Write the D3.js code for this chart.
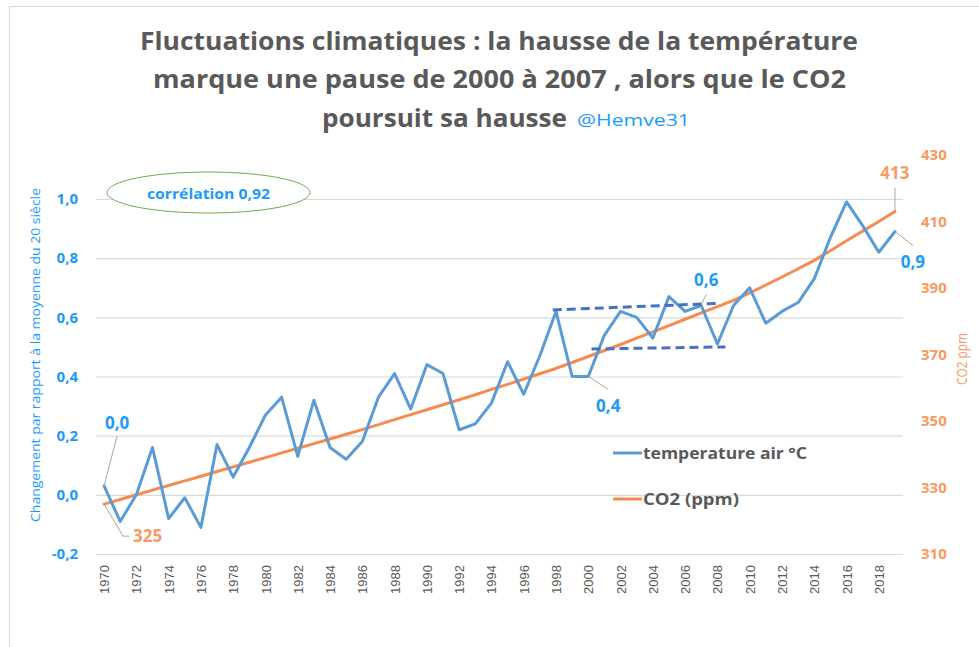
<!DOCTYPE html>
<html>
<head>
<meta charset="utf-8">
<script src="https://cdn.jsdelivr.net/npm/d3@7"></script>
<style>
  html, body { margin: 0; padding: 0; background: #fff; }
  svg { display: block; }
</style>
</head>
<body>
<svg id="chart" width="979" height="647"></svg>
<script>
// ---------- DATA ----------
const years = d3.range(1970, 2020);
const temperature = [
  0.03, -0.09, 0.00, 0.16, -0.08, -0.01, -0.11, 0.17, 0.06, 0.16,
  0.27, 0.33, 0.13, 0.32, 0.16, 0.12, 0.18, 0.33, 0.41, 0.29,
  0.44, 0.41, 0.22, 0.24, 0.31, 0.45, 0.34, 0.47, 0.62, 0.40,
  0.40, 0.54, 0.62, 0.60, 0.53, 0.67, 0.62, 0.64, 0.51, 0.64,
  0.70, 0.58, 0.62, 0.65, 0.73, 0.87, 0.99, 0.91, 0.82, 0.89
];
const co2 = [
  325.0, 326.4, 327.8, 329.2, 330.6, 332.0, 333.4, 334.8, 336.2, 337.6,
  339.0, 340.4, 341.8, 343.2, 344.6, 346.0, 347.4, 348.9, 350.4, 351.9,
  353.4, 354.9, 356.4, 357.9, 359.5, 361.0, 362.6, 364.2, 365.8, 367.6,
  369.4, 371.2, 373.0, 374.9, 376.8, 378.7, 380.6, 382.5, 384.4, 386.3,
  388.5, 390.9, 393.3, 395.8, 398.3, 401.2, 404.2, 407.1, 410.0, 413.0
];
const leftTicks = [-0.2, 0.0, 0.2, 0.4, 0.6, 0.8, 1.0];
const rightTicks = [310, 330, 350, 370, 390, 410, 430];
const xTicks = d3.range(1970, 2019, 2);
const pauseUpper = [[1997.8, 0.625], [2008.0, 0.647]];
const pauseLower = [[2000.2, 0.493], [2008.5, 0.500]];
const titleLines = [
  "Fluctuations climatiques : la hausse de la température",
  "marque une pause de 2000 à 2007 , alors que le CO2",
  "poursuit sa hausse"
];
const handle = "@Hemve31";
const seriesNames = ["temperature air °C", "CO2 (ppm)"];
const correlationText = "corrélation 0,92";
const leftTitle = "Changement par rapport à la moyenne du 20 siècle";
const rightTitle = "CO2 ppm";

// ---------- STYLE ----------
const BLUE_LINE = "#5B9BD5";
const ORANGE_LINE = "#F68A4F";
const BLUE_TEXT = "#1A9BFC";
const ORANGE_TEXT = "#F89A62";
const GREY_TEXT = "#595959";
const GRID = "#D9D9D9";
const DASH = "#4472C4";

const svg = d3.select("#chart");

// frame
svg.append("rect").attr("x", 9.5).attr("y", 6.5).attr("width", 1000).attr("height", 700)
  .attr("fill", "none").attr("stroke", "#D9D9D9").attr("stroke-width", 1);

// ---------- SCALES ----------
const plotL = 96, plotR = 903;
const x = d3.scalePoint().domain(years).range([plotL, plotR]).padding(0.5);
const xLin = d3.scaleLinear().domain([1970, 2019]).range([x(1970), x(2019)]);
const yL = d3.scaleLinear().domain([-0.2, 1.0]).range([554, 199]);
const yR = d3.scaleLinear().domain([310, 430]).range([554, 155]);
const fmtComma = v => d3.format(".1f")(v).replace(".", ",").replace("\u2212", "-");

// ---------- TITLE ----------
const titleFont = "'Open Sans', 'Liberation Sans', sans-serif";
const tl = [
  { t: titleLines[0], x: 140, y: 50, w: 718 },
  { t: titleLines[1], x: 153, y: 88, w: 693 },
  { t: titleLines[2], x: 322, y: 127, w: 245 }
];
tl.forEach(d => {
  svg.append("text").attr("x", d.x).attr("y", d.y)
    .attr("font-family", titleFont).attr("font-weight", 700).attr("font-size", 25)
    .attr("fill", GREY_TEXT).attr("textLength", d.w).attr("lengthAdjust", "spacingAndGlyphs")
    .text(d.t);
});
svg.append("text").attr("x", 577).attr("y", 126)
  .attr("font-family", titleFont).attr("font-size", 16).attr("fill", BLUE_TEXT)
  .attr("textLength", 113).attr("lengthAdjust", "spacingAndGlyphs")
  .text(handle);

// ---------- GRID ----------
const gGrid = svg.append("g")
  .attr("transform", `translate(${plotL},0)`)
  .call(d3.axisLeft(yL).tickValues(leftTicks).tickSize(-(plotR - plotL)).tickFormat(""));
gGrid.select(".domain").remove();
gGrid.selectAll("line").attr("stroke", GRID).attr("stroke-width", 1.2);

// ---------- LEFT AXIS LABELS ----------
const gL = svg.append("g").attr("transform", "translate(78,0)")
  .call(d3.axisLeft(yL).tickValues(leftTicks).tickSize(0).tickPadding(0).tickFormat(fmtComma));
gL.select(".domain").remove();
gL.selectAll("text").attr("font-family", "'Open Sans', sans-serif").attr("font-weight", 700)
  .attr("font-size", 15).attr("fill", BLUE_TEXT);

// ---------- RIGHT AXIS LABELS ----------
const gR = svg.append("g").attr("transform", "translate(921,0)")
  .call(d3.axisRight(yR).tickValues(rightTicks).tickSize(0).tickPadding(0));
gR.select(".domain").remove();
gR.selectAll("text").attr("font-family", "'Open Sans', sans-serif").attr("font-weight", 700)
  .attr("font-size", 15).attr("fill", ORANGE_TEXT);

// ---------- X AXIS ----------
const gX = svg.append("g").attr("transform", "translate(0,554)")
  .call(d3.axisBottom(x).tickValues(xTicks).tickSize(0).tickPadding(0));
gX.select(".domain").remove();
gX.selectAll("text")
  .attr("font-family", "'Liberation Sans', Arial, sans-serif").attr("font-size", 13)
  .attr("fill", GREY_TEXT)
  .attr("text-anchor", "end").attr("dy", "0.35em")
  .attr("transform", "translate(0,11) rotate(-90)")
  .attr("x", 0).attr("y", 0);

// ---------- AXIS TITLES ----------
svg.append("text").attr("transform", "translate(40,355) rotate(-90)")
  .attr("text-anchor", "middle").attr("font-family", "'Open Sans', sans-serif")
  .attr("font-size", 12.5).attr("fill", BLUE_TEXT)
  .attr("textLength", 334).attr("lengthAdjust", "spacingAndGlyphs")
  .text(leftTitle);
svg.append("text").attr("transform", "translate(967,359) rotate(-90)")
  .attr("text-anchor", "middle").attr("font-family", "'Open Sans', sans-serif")
  .attr("font-size", 14).attr("fill", ORANGE_TEXT)
  .attr("textLength", 52).attr("lengthAdjust", "spacingAndGlyphs")
  .text(rightTitle);

// ---------- LINES ----------
const lineT = d3.line().x((d, i) => x(years[i])).y(d => yL(d));
const lineC = d3.line().x((d, i) => x(years[i])).y(d => yR(d));
svg.append("path").datum(co2).attr("d", lineC)
  .attr("fill", "none").attr("stroke", ORANGE_LINE).attr("stroke-width", 3)
  .attr("stroke-linejoin", "round").attr("stroke-linecap", "round");
svg.append("path").datum(temperature).attr("d", lineT)
  .attr("fill", "none").attr("stroke", BLUE_LINE).attr("stroke-width", 3)
  .attr("stroke-linejoin", "round").attr("stroke-linecap", "round");

// ---------- PAUSE DASHED LINES ----------
const dashLine = d3.line().x(d => xLin(d[0])).y(d => yL(d[1]));
[pauseUpper, pauseLower].forEach(p => {
  svg.append("path").datum(p).attr("d", dashLine)
    .attr("fill", "none").attr("stroke", DASH).attr("stroke-width", 3)
    .attr("stroke-dasharray", "9,5");
});

// ---------- DATA LABELS ----------
const idx = y => years.indexOf(y);
function leader(pts) {
  svg.append("path").attr("d", d3.line()(pts))
    .attr("fill", "none").attr("stroke", "#A6A6A6").attr("stroke-width", 1);
}
function label(txt, lx, ly, color, anchor) {
  svg.append("text").attr("x", lx).attr("y", ly).attr("dy", "0.35em")
    .attr("text-anchor", anchor || "middle")
    .attr("font-family", "'Open Sans', sans-serif").attr("font-weight", 700)
    .attr("font-size", 17).attr("fill", color).text(txt);
}
// 1970 temperature
{
  const px = x(1970), py = yL(temperature[idx(1970)]);
  leader([[px, py], [px + 13, py - 50]]);
  label(fmtComma(temperature[idx(1970)]), px + 13, py - 63, BLUE_TEXT);
}
// 1970 CO2
{
  const px = x(1970), py = yR(co2[idx(1970)]);
  leader([[px, py], [px + 19, py + 32], [px + 25, py + 32]]);
  label(d3.format("d")(co2[idx(1970)]), px + 29, py + 32, ORANGE_TEXT, "start");
}
// 2000 temperature
{
  const px = x(2000), py = yL(temperature[idx(2000)]);
  leader([[px + 2, py + 1], [px + 20, py + 13]]);
  label(fmtComma(temperature[idx(2000)]), px + 20, py + 30, BLUE_TEXT);
}
// 2007 temperature
{
  const px = x(2007), py = yL(temperature[idx(2007)]);
  leader([[px, py - 1], [px + 5, py - 11]]);
  label(fmtComma(temperature[idx(2007)]), px + 5, py - 25, BLUE_TEXT);
}
// 2019 temperature
{
  const px = x(2019), py = yL(temperature[idx(2019)]);
  leader([[px, py], [px + 18, py + 14]]);
  label(fmtComma(temperature[idx(2019)]), px + 18, py + 31, BLUE_TEXT);
}
// 2019 CO2
{
  const px = x(2019), py = yR(co2[idx(2019)]);
  leader([[px, py], [px, py - 24]]);
  label(d3.format("d")(co2[idx(2019)]), px, py - 38, ORANGE_TEXT);
}

// ---------- CORRELATION BUBBLE ----------
svg.append("ellipse").attr("cx", 208.5).attr("cy", 192.5).attr("rx", 101.5).attr("ry", 20.5)
  .attr("fill", "#fff").attr("stroke", "#70AD47").attr("stroke-width", 1);
svg.append("text").attr("x", 208.5).attr("y", 194).attr("dy", "0.35em")
  .attr("text-anchor", "middle").attr("font-family", "'Open Sans', sans-serif")
  .attr("font-weight", 700).attr("font-size", 15).attr("fill", BLUE_TEXT)
  .attr("textLength", 123).attr("lengthAdjust", "spacingAndGlyphs")
  .text(correlationText);

// ---------- LEGEND ----------
const legColors = [BLUE_LINE, ORANGE_LINE];
const legY = [453, 499];
seriesNames.forEach((n, i) => {
  svg.append("line").attr("x1", 613).attr("x2", 642).attr("y1", legY[i]).attr("y2", legY[i])
    .attr("stroke", legColors[i]).attr("stroke-width", 3);
  svg.append("text").attr("x", 643).attr("y", legY[i]).attr("dy", "0.35em")
    .attr("font-family", "'Open Sans', sans-serif").attr("font-weight", 700)
    .attr("font-size", 16).attr("fill", GREY_TEXT)
    .attr("textLength", i === 0 ? 164 : 96).attr("lengthAdjust", "spacingAndGlyphs")
    .text(n);
});
</script>
</body>
</html>
